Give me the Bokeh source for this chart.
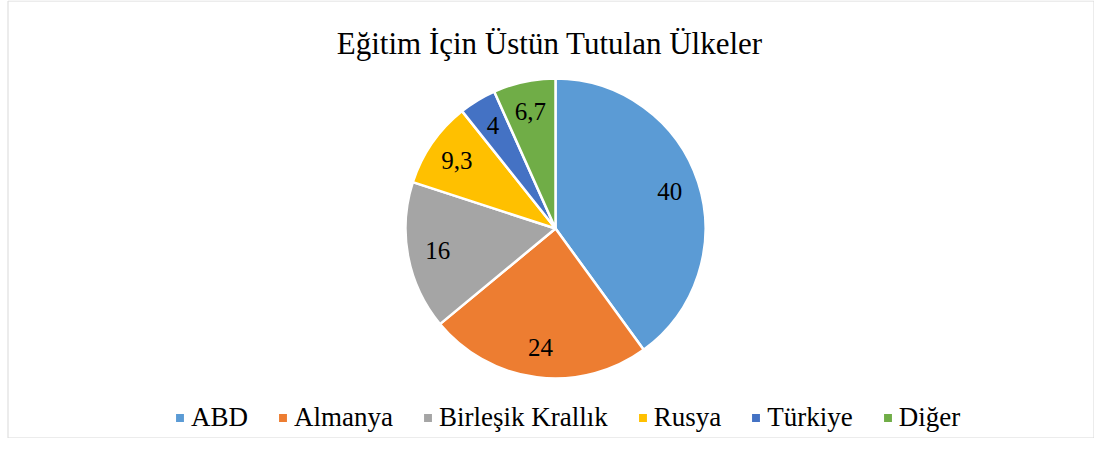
import numpy as np
from bokeh.plotting import figure
from bokeh.models import ColumnDataSource, Range1d, Legend, LegendItem, Label
from bokeh.core.properties import value
from bokeh.embed import file_html
from bokeh.resources import INLINE

title_text = "Eğitim  İçin Üstün Tutulan  Ülkeler"
categories = ["ABD", "Almanya", "Birleşik Krallık", "Rusya", "Türkiye", "Diğer"]
values = [40, 24, 16, 9.3, 4, 6.7]
value_labels = ["40", "24", "16", "9,3", "4", "6,7"]
colors = ["#5B9BD5", "#ED7D31", "#A5A5A5", "#FFC000", "#4472C4", "#70AD47"]

FONT = "Liberation Serif"
W, H = 1094, 438
p = figure(width=W, height=H, output_backend="svg", toolbar_location=None, tools="",
           x_range=Range1d(0, W), y_range=Range1d(0, H), min_border=0,
           x_axis_type=None, y_axis_type=None,
           background_fill_color="white", border_fill_color="white",
           outline_line_color=None)
p.grid.visible = False

# chart-area border
p.quad(left=7.5, right=W - 0.5, bottom=0.5, top=H - 0.5, fill_color=None,
       line_color="#d9d9d9", line_width=1)

cx, cy, R = 555, 210, 150
total = float(sum(values))
cum = np.cumsum([0.0] + values)
start = np.pi / 2 - 2 * np.pi * cum[:-1] / total
end = np.pi / 2 - 2 * np.pi * cum[1:] / total
mid = (start + end) / 2
src = ColumnDataSource(dict(
    start=start, end=end, color=colors, cat=categories,
    lx=cx + 0.8 * R * np.cos(mid), ly=cy + 0.8 * R * np.sin(mid), lab=value_labels))

r = p.wedge(x=cx, y=cy, radius=R, start_angle="start", end_angle="end",
            direction="clock", fill_color="color", line_color="white",
            line_width=2.5, source=src)

p.text(x="lx", y="ly", text="lab", source=src, text_align="center",
       text_baseline="middle", text_font=value(FONT), text_font_size=value("25px"),
       text_color="#000000")

title = Label(x=557, y=395, text=title_text, text_align="center",
              text_baseline="alphabetic", text_font=FONT, text_font_size="31px",
              text_color="#000000")
p.add_layout(title)

legend = Legend(items=[LegendItem(label=c, renderers=[r], index=i) for i, c in enumerate(categories)],
                orientation="horizontal", location=(173, 5),
                label_text_font=FONT, label_text_font_size="27px", label_text_color="#000000",
                glyph_width=13, glyph_height=13, label_standoff=5, spacing=28,
                padding=0, margin=0, border_line_alpha=0, background_fill_alpha=0,
                label_height=20)
p.add_layout(legend)

open("out.html", "w").write(file_html(p, INLINE))
